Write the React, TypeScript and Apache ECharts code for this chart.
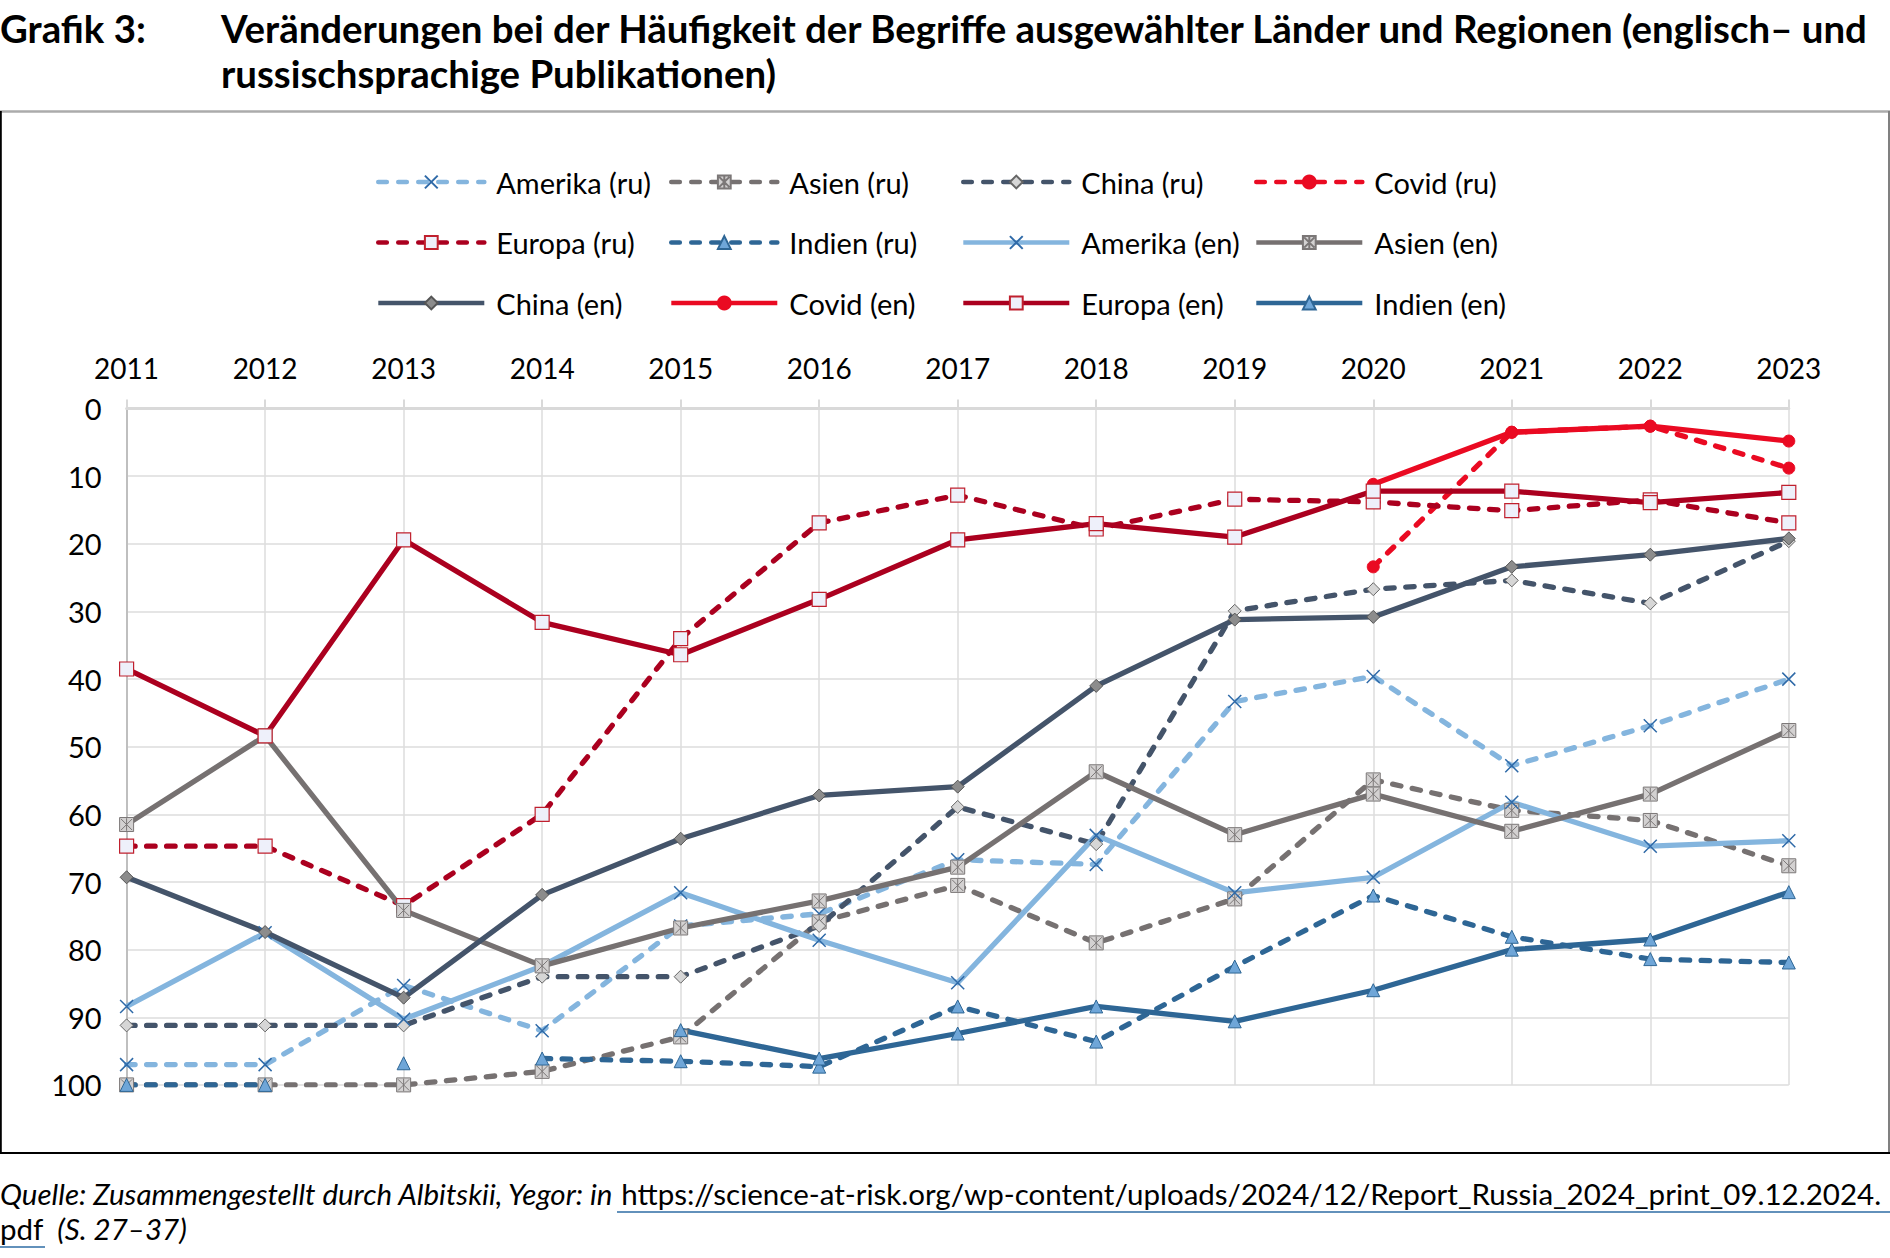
import React, { useEffect, useRef } from "react";
import * as echarts from "echarts";

const years = ["2011", "2012", "2013", "2014", "2015", "2016", "2017", "2018", "2019", "2020", "2021", "2022", "2023"];

const amerikaRu = [97.0, 97.0, 85.3, 92.0, 76.5, 74.7, 66.7, 67.4, 43.3, 39.6, 52.8, 46.9, 40.0];
const asienRu = [100, 100, 100, 98.0, 92.9, 75.9, 70.5, 79.0, 72.5, 54.9, 59.4, 60.9, 67.6];
const chinaRu = [91.2, 91.2, 91.2, 84.0, 84.0, 76.5, 58.9, 64.4, 29.9, 26.7, 25.4, 28.8, 19.6];
const covidRu = [null, null, null, null, null, null, null, null, null, 23.4, 3.5, 2.6, 8.8];
const europaRu = [64.7, 64.7, 73.5, 60.0, 34.0, 16.9, 12.8, 17.8, 13.4, 13.8, 15.1, 13.5, 16.9];
const indienRu = [100, 100, null, 96.1, 96.5, 97.3, 88.4, 93.6, 82.5, 72.0, 78.1, 81.4, 81.9];
const amerikaEn = [88.4, 77.5, 90.3, 82.4, 71.6, 78.6, 84.9, 63.1, 71.6, 69.3, 58.2, 64.7, 63.9];
const asienEn = [61.5, 48.4, 74.2, 82.4, 76.8, 72.8, 67.8, 53.7, 63.0, 57.0, 62.5, 57.0, 47.6];
const chinaEn = [69.3, 77.4, 87.1, 71.9, 63.6, 57.2, 55.9, 41.0, 31.2, 30.8, 23.4, 21.6, 19.2];
const covidEn = [null, null, null, null, null, null, null, null, null, 11.2, 3.5, 2.6, 4.8];
const europaEn = [38.5, 48.4, 19.4, 31.6, 36.4, 28.2, 19.4, 17.0, 19.0, 12.2, 12.2, 13.9, 12.4];
const indienEn = [null, null, 96.8, null, 91.9, 96.1, 92.4, 88.4, 90.6, 86.0, 80.0, 78.5, 71.5];

const yTicks = { min: 0, max: 100, interval: 10 };

const legendCols = [
  ["Amerika (ru)", "Europa (ru)", "China (en)"],
  ["Asien (ru)", "Indien (ru)", "Covid (en)"],
  ["China (ru)", "Amerika (en)", "Europa (en)"],
  ["Covid (ru)", "Asien (en)", "Indien (en)"],
];
const legendLefts = [376, 669, 961, 1254];

const titleLead = "Grafik 3:";
const titleLine1 = "Veränderungen bei der Häufigkeit der Begriffe ausgewählter Länder und Regionen (englisch– und";
const titleLine2 = "russischsprachige Publikationen)";
const sourceLead = "Quelle: Zusammengestellt durch Albitskii, Yegor: in ";
const sourceLink1 = "https://science-at-risk.org/wp-content/uploads/2024/12/Report_Russia_2024_print_09.12.2024.";
const sourceLink2 = "pdf";
const sourceTail = "  (S. 27–37)";

const FONT = "Lato";
const LW = 5.3;
const LEG_LW = 4.6;
const DASH = [8.5, 11.5];

const X_PATH = "path://M0,0L10,10M10,0L0,10";
const STAR_PATH = "path://M0,0H10V10H0Z M1,1L9,9M9,1L1,9M5,0.5V9.5";

type Sty = {
  color: string;
  symbol: string;
  size: number;
  fill: string;
  border: string;
  bw: number;
};

const amerikaSty: Sty = { color: "#84b5de", symbol: X_PATH, size: 13, fill: "#eef3fa", border: "#2f6aa8", bw: 1.5 };
const asienSty: Sty = { color: "#767171", symbol: STAR_PATH, size: 14, fill: "#d3d1d1", border: "#7b7777", bw: 1 };
const chinaEnSty: Sty = { color: "#44546a", symbol: "diamond", size: 13, fill: "#8c8c8c", border: "#555555", bw: 1 };
const chinaRuSty: Sty = { color: "#44546a", symbol: "diamond", size: 13, fill: "#d6d6d6", border: "#666666", bw: 1 };
const covidSty: Sty = { color: "#ea0a22", symbol: "circle", size: 12, fill: "#ea0a22", border: "#ea0a22", bw: 1 };
const europaSty: Sty = { color: "#ab001f", symbol: "rect", size: 14, fill: "#eef0fa", border: "#c0202e", bw: 1.2 };
const indienSty: Sty = { color: "#2e6695", symbol: "triangle", size: 13, fill: "#6fa6d8", border: "#2e6695", bw: 1 };

function mk(name: string, data: (number | null)[], s: Sty, dashed: boolean) {
  return {
    name,
    type: "line",
    data,
    symbol: s.symbol,
    symbolSize: s.size,
    showSymbol: true,
    showAllSymbol: true,
    connectNulls: false,
    lineStyle: {
      color: s.color,
      width: LW,
      type: dashed ? DASH : "solid",
      cap: dashed ? "round" : "butt",
      join: "round",
    },
    itemStyle: { color: s.fill, borderColor: s.border, borderWidth: s.bw },
    emphasis: { disabled: true },
  };
}

export default function App() {
  const ref = useRef<HTMLDivElement>(null);

  useEffect(() => {
    if (!ref.current) return;
    const chart = echarts.init(ref.current, undefined, { renderer: "svg" });

    const series = [
      mk("Amerika (ru)", amerikaRu, amerikaSty, true),
      mk("Asien (ru)", asienRu, asienSty, true),
      mk("China (ru)", chinaRu, chinaRuSty, true),
      mk("Covid (ru)", covidRu, covidSty, true),
      mk("Europa (ru)", europaRu, europaSty, true),
      mk("Indien (ru)", indienRu, indienSty, true),
      mk("Amerika (en)", amerikaEn, amerikaSty, false),
      mk("Asien (en)", asienEn, asienSty, false),
      mk("China (en)", chinaEn, chinaEnSty, false),
      mk("Covid (en)", covidEn, covidSty, false),
      mk("Europa (en)", europaEn, europaSty, false),
      mk("Indien (en)", indienEn, indienSty, false),
    ];

    const option: any = {
      animation: false,
      backgroundColor: "#ffffff",
      textStyle: { fontFamily: FONT },
      legend: legendCols.map((d, i) => ({
        data: d,
        left: legendLefts[i],
        top: 165,
        orient: "vertical",
        itemWidth: 106,
        itemHeight: 16,
        itemGap: 26.5,
        padding: 0,
        selectedMode: false,
        lineStyle: { width: LEG_LW },
        textStyle: { fontSize: 29, fontFamily: FONT, color: "#000000", lineHeight: 34, padding: [0, 0, 0, 7] },
      })),
      grid: { left: 126.6, right: 101.2, top: 408.6, height: 676.3, containLabel: false },
      xAxis: {
        type: "category",
        data: years,
        position: "top",
        boundaryGap: false,
        axisLine: { show: true, lineStyle: { color: "#d9d9d9", width: 3 } },
        axisTick: { show: true, length: 9, lineStyle: { color: "#d9d9d9", width: 2 } },
        axisLabel: { fontSize: 28, fontFamily: FONT, color: "#000000", margin: 27 },
        splitLine: { show: true, lineStyle: { color: "#dcdcdc", width: 1.5 } },
      },
      yAxis: {
        type: "value",
        inverse: true,
        min: yTicks.min,
        max: yTicks.max,
        interval: yTicks.interval,
        axisLine: { show: true, lineStyle: { color: "#bfbfbf", width: 2 } },
        axisTick: { show: false },
        axisLabel: { fontSize: 29, fontFamily: FONT, color: "#000000", margin: 25 },
        splitLine: { show: true, lineStyle: { color: "#dcdcdc", width: 1.5 } },
      },
      graphic: [
        { type: "line", shape: { x1: 0, y1: 111.5, x2: 1890, y2: 111.5 }, style: { stroke: "#ababab", lineWidth: 2.5 } },
        { type: "line", shape: { x1: 1889, y1: 111, x2: 1889, y2: 1154 }, style: { stroke: "#808080", lineWidth: 2 } },
        { type: "line", shape: { x1: 0.8, y1: 111, x2: 0.8, y2: 1154 }, style: { stroke: "#000000", lineWidth: 2 } },
        { type: "line", shape: { x1: 0, y1: 1153, x2: 1890, y2: 1153 }, style: { stroke: "#000000", lineWidth: 2 } },
        {
          type: "text", left: 0, top: 9,
          style: { text: titleLead, fontSize: 38.4, fontWeight: "bold", fontFamily: FONT, fill: "#000000" },
        },
        {
          type: "text", left: 221, top: 9,
          style: { text: titleLine1, fontSize: 38.4, fontWeight: "bold", fontFamily: FONT, fill: "#000000" },
        },
        {
          type: "text", left: 221, top: 54,
          style: { text: titleLine2, fontSize: 38.4, fontWeight: "bold", fontFamily: FONT, fill: "#000000" },
        },
        {
          type: "text", left: 0, top: 1178,
          style: {
            text: "{i|" + sourceLead + "}{n|" + sourceLink1 + "}",
            rich: {
              i: { fontSize: 29.5, fontStyle: "italic", fontFamily: FONT, fill: "#000000", color: "#000000" },
              n: { fontSize: 29.5, fontFamily: FONT, fill: "#000000", color: "#000000" },
            },
          },
        },
        {
          type: "text", left: 0, top: 1213,
          style: {
            text: "{n|" + sourceLink2 + "}{i|" + sourceTail + "}",
            rich: {
              i: { fontSize: 29.5, fontStyle: "italic", fontFamily: FONT, fill: "#000000", color: "#000000" },
              n: { fontSize: 29.5, fontFamily: FONT, fill: "#000000", color: "#000000" },
            },
          },
        },
        { type: "line", shape: { x1: 617, y1: 1212, x2: 1890, y2: 1212 }, style: { stroke: "#2e6da4", lineWidth: 1.5 } },
        { type: "line", shape: { x1: 0, y1: 1247, x2: 45, y2: 1247 }, style: { stroke: "#2e6da4", lineWidth: 1.5 } },
      ],
      series,
    };

    chart.setOption(option);
    return () => chart.dispose();
  }, []);

  return (
    <div
      ref={ref}
      style={{ position: "fixed", left: 0, top: 0, width: 1890, height: 1258, background: "#ffffff" }}
    />
  );
}
